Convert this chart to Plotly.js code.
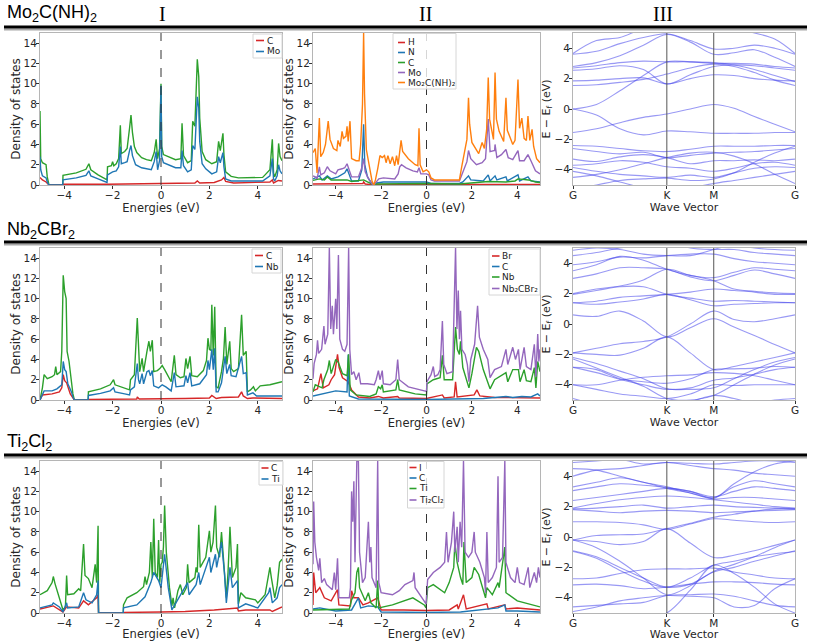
<!DOCTYPE html>
<html><head><meta charset="utf-8">
<script src="https://cdn.plot.ly/plotly-3.0.1.min.js"></script>
<style>html,body{margin:0;padding:0;background:#fff}#chart{width:813px;height:641px}</style>
</head><body><div id="chart"></div>
<script>
// ---------------- DATA ----------------
const materials = ['Mo<sub>2</sub>C(NH)<sub>2</sub>', 'Nb<sub>2</sub>CBr<sub>2</sub>', 'Ti<sub>2</sub>Cl<sub>2</sub>'];
const columnLabels = ['I', 'II', 'III'];
const energyTicks = [-4, -2, 0, 2, 4];
const dosTicks = [0, 2, 4, 6, 8, 10, 12, 14];
const kPath = [0, 0.1667, 0.3333, 0.5, 0.6667, 0.8333, 1.0, 1.1443, 1.2887, 1.433, 1.5774];
const kTickVals = [0, 0.6667, 1.0, 1.5774];
const kTickText = ['G', 'K', 'M', 'G'];

// Row 1: Mo2C(NH)2, panel I ([energy, DOS] points)
const mo_I_total = [[-5,7.3],[-4.97,2.6],[-4.9,2.2],[-4.75,2.0],[-4.7,0.8],[-4.63,0],[-4.06,0],[-4.05,0.95],[-3.5,1.2],[-3.1,1.55],[-2.98,2.1],[-2.9,1.5],[-2.6,1.0],[-2.23,0.5],[-2.21,1.8],[-2.05,1.9],[-2.0,2.3],[-1.95,1.9],[-1.85,2.1],[-1.75,2.6],[-1.68,5.9],[-1.64,3.1],[-1.5,3.3],[-1.4,3.6],[-1.3,5.6],[-1.24,6.9],[-1.18,5.2],[-1.1,3.8],[-1.0,3.2],[-0.8,2.7],[-0.6,2.5],[-0.4,2.4],[-0.28,3.2],[-0.2,4.5],[-0.14,2.6],[-0.06,3.6],[0,10],[0.03,3.8],[0.1,3.0],[0.3,2.8],[0.6,2.5],[0.82,2.6],[0.87,6.1],[0.93,2.9],[1.1,2.2],[1.25,2.4],[1.31,6.3],[1.4,5.8],[1.5,12.4],[1.56,10.7],[1.6,6.6],[1.7,3.3],[1.85,2.5],[2.1,2.1],[2.3,2.3],[2.38,4.3],[2.45,3.4],[2.56,5.1],[2.6,3.0],[2.67,1.3],[2.9,0.85],[3.2,0.7],[4.2,0.75],[4.3,1.0],[4.5,1.5],[4.6,4.5],[4.65,1.2],[4.7,0.8],[4.8,1.5],[4.86,4.1],[4.92,2.8],[5,2.4]];
const mo_I_Mo = [[-5,2.8],[-4.97,1.5],[-4.9,0.9],[-4.75,0.7],[-4.7,0.3],[-4.63,0],[-4.06,0],[-4.05,0.5],[-3.5,0.7],[-3.1,0.95],[-2.98,1.4],[-2.9,0.9],[-2.6,0.6],[-2.23,0.25],[-2.21,1.0],[-2.0,1.3],[-1.85,1.4],[-1.75,1.8],[-1.68,3.8],[-1.64,2.1],[-1.5,2.2],[-1.4,2.3],[-1.3,3.4],[-1.24,3.9],[-1.18,2.9],[-1.05,2.0],[-0.8,1.7],[-0.5,1.5],[-0.4,1.5],[-0.28,2.3],[-0.2,3.3],[-0.14,1.5],[-0.06,2.4],[0,9.8],[0.03,2.8],[0.1,2.2],[0.3,2.0],[0.6,1.7],[0.82,1.7],[0.87,3.4],[0.93,1.9],[1.1,1.3],[1.25,1.5],[1.31,3.9],[1.4,3.5],[1.5,8.7],[1.56,7.6],[1.6,4.3],[1.7,2.1],[1.85,1.6],[2.1,1.1],[2.3,1.3],[2.38,2.8],[2.45,2.2],[2.56,3.2],[2.6,1.8],[2.67,0.6],[2.9,0.4],[4.2,0.4],[4.3,0.55],[4.5,0.9],[4.6,2.6],[4.65,0.6],[4.7,0.4],[4.8,0.9],[4.86,2.0],[4.92,1.4],[5,1.1]];
const mo_I_C = [[-5,0.75],[-4.9,0.5],[-4.75,0.3],[-4.63,0],[-4.06,0],[-4.05,0.08],[-2.2,0.08],[-1.6,0.1],[0,0.1],[0.9,0.15],[1.4,0.2],[1.5,0.4],[1.6,0.2],[2.2,0.25],[2.5,0.5],[2.6,0.75],[2.67,0.35],[3.0,0.2],[4.5,0.3],[4.6,0.5],[4.65,0.2],[4.85,0.45],[5,0.4]];

// Row 1 panel II
const mo_II_total = [[-5,3.2],[-4.9,3.6],[-4.82,1.2],[-4.72,6.6],[-4.66,2.8],[-4.55,3.2],[-4.45,4.0],[-4.37,5.9],[-4.33,6.3],[-4.25,4.5],[-4.1,3.6],[-3.95,3.4],[-3.9,4.4],[-3.8,3.8],[-3.72,5.3],[-3.66,4.6],[-3.55,4.8],[-3.5,5.8],[-3.45,4.3],[-3.37,6.3],[-3.3,2.6],[-3.1,2.4],[-2.97,2.4],[-2.9,4.0],[-2.82,8.0],[-2.77,15],[-2.73,9.0],[-2.65,3.5],[-2.55,2.2],[-2.4,0.4],[-2.32,0],[-2.25,0.5],[-2.15,1.6],[-2.05,2.9],[-1.95,2.7],[-1.85,2.9],[-1.78,2.2],[-1.7,2.9],[-1.6,2.1],[-1.5,2.8],[-1.4,1.9],[-1.32,2.9],[-1.25,2.0],[-1.18,3.3],[-1.12,4.4],[-1.05,3.3],[-0.8,2.6],[-0.5,2.0],[-0.38,1.9],[-0.33,5.6],[-0.28,2.0],[-0.15,1.3],[-0.05,1.4],[0,1.5],[0.1,1.3],[0.2,0.7],[0.35,0.5],[1.45,0.5],[1.55,1.8],[1.7,3.6],[1.78,4.5],[1.85,8.6],[1.9,6.0],[2.0,4.2],[2.2,3.4],[2.3,3.1],[2.45,4.2],[2.55,3.6],[2.65,5.5],[2.72,10.6],[2.78,6.5],[2.88,5.2],[2.95,4.5],[3.02,11.1],[3.08,6.5],[3.2,5.3],[3.3,4.8],[3.4,4.3],[3.5,8.6],[3.56,5.4],[3.7,4.6],[3.8,4.0],[3.9,4.4],[4.03,10.4],[4.1,5.6],[4.2,6.6],[4.3,4.6],[4.4,4.4],[4.47,6.8],[4.55,4.4],[4.65,5.5],[4.72,3.8],[4.85,2.6],[5,2.2]];
const mo_II_Mo = [[-5,0.9],[-4.9,0.8],[-4.82,0.6],[-4.72,1.8],[-4.66,1.0],[-4.5,1.2],[-4.37,1.8],[-4.25,1.4],[-4.0,1.1],[-3.9,1.5],[-3.72,1.6],[-3.6,1.7],[-3.5,2.1],[-3.4,1.5],[-3.3,0.8],[-3.0,0.8],[-2.85,1.7],[-2.77,2.6],[-2.7,1.3],[-2.55,0.6],[-2.4,0.1],[-2.32,0],[-2.25,0.2],[-2.1,0.6],[-1.9,0.7],[-1.6,0.6],[-1.4,0.6],[-1.25,1.1],[-1.18,1.8],[-1.1,2.0],[-0.9,1.7],[-0.6,1.4],[-0.4,1.3],[-0.33,1.7],[-0.25,1.1],[0,1.1],[0.1,1.0],[0.2,0.5],[0.35,0.4],[1.45,0.4],[1.6,1.2],[1.78,2.3],[1.85,3.4],[1.95,2.6],[2.2,2.0],[2.45,2.2],[2.6,2.6],[2.72,6.5],[2.8,3.3],[3.0,3.4],[3.02,4.0],[3.1,2.7],[3.3,3.0],[3.5,3.5],[3.6,2.7],[3.8,2.5],[4.03,3.4],[4.1,2.4],[4.3,2.4],[4.47,3.0],[4.6,2.4],[4.8,1.4],[5,1.1]];
const mo_II_N = [[-5,0.6],[-4.72,0.9],[-4.6,0.5],[-4.37,0.9],[-4.2,0.6],[-3.9,0.8],[-3.6,1.2],[-3.5,1.6],[-3.4,1.0],[-3.3,0.4],[-3.0,0.4],[-2.85,1.5],[-2.77,6.0],[-2.72,2.0],[-2.6,0.8],[-2.4,0.1],[-2.32,0],[-2.2,0.2],[-1.9,0.3],[-1.18,0.3],[-0.33,0.25],[0,0.3],[0.2,0.15],[1.45,0.15],[1.6,0.3],[1.85,0.9],[1.95,0.5],[2.5,0.4],[2.72,1.0],[2.8,0.4],[3.02,0.9],[3.1,0.5],[3.5,0.8],[3.56,0.4],[4.03,1.0],[4.1,0.4],[4.47,0.8],[4.6,0.4],[5,0.3]];
const mo_II_C = [[-5,0.45],[-4.72,0.6],[-4.5,0.5],[-4.37,0.8],[-4.2,0.5],[-3.9,0.5],[-3.5,0.5],[-3.3,0.35],[-2.77,0.5],[-2.6,0.3],[-2.4,0.05],[-2.32,0],[-2.2,0.1],[0,0.15],[1.45,0.1],[2.0,0.2],[2.72,0.35],[3.5,0.3],[3.9,0.4],[4.03,0.6],[4.5,0.5],[4.8,0.3],[5,0.25]];
const mo_II_H = [[-5,0.1],[-2.8,0.15],[-2.77,0.3],[-2.7,0.1],[-2.32,0],[-2.2,0.05],[5,0.05]];

// Row 2: Nb2CBr2, panel I
const nb_I_total = [[-5,0],[-4.9,1.2],[-4.83,2.5],[-4.7,2.1],[-4.5,2.3],[-4.4,2.5],[-4.35,3.3],[-4.3,2.5],[-4.15,2.8],[-4.1,4.8],[-4.04,12.3],[-3.98,10.7],[-3.92,10.0],[-3.88,4.8],[-3.8,3.8],[-3.7,1.5],[-3.64,0.6],[-3.58,0],[-3.01,0],[-3.0,0.8],[-2.5,1.1],[-2.1,1.5],[-1.96,2.0],[-1.9,1.5],[-1.6,1.25],[-1.3,1.0],[-1.26,2.0],[-1.1,2.5],[-0.98,8.1],[-0.93,4.4],[-0.88,2.8],[-0.78,4.1],[-0.72,2.8],[-0.58,4.8],[-0.5,5.8],[-0.44,4.8],[-0.36,5.9],[-0.3,2.8],[-0.15,2.9],[-0.05,3.1],[0.05,3.4],[0.15,3.0],[0.3,2.4],[0.42,1.8],[0.55,4.4],[0.62,2.5],[0.8,2.2],[0.95,2.3],[1.03,4.1],[1.1,3.1],[1.2,4.3],[1.27,2.4],[1.5,2.3],[1.75,2.9],[1.88,3.9],[1.94,6.1],[2.0,5.0],[2.06,4.9],[2.1,9.4],[2.16,4.4],[2.22,9.2],[2.28,1.3],[2.36,1.2],[2.5,2.8],[2.58,4.1],[2.65,7.2],[2.72,3.5],[2.84,5.8],[2.9,3.1],[3.0,2.8],[3.2,3.1],[3.33,8.4],[3.4,4.4],[3.52,4.8],[3.57,0.8],[3.7,1.0],[3.82,1.3],[3.9,0.9],[4.1,1.4],[4.5,1.5],[5,1.8]];
const nb_I_Nb = [[-5,0],[-4.9,0.6],[-4.83,0.9],[-4.5,0.9],[-4.3,1.1],[-4.1,1.5],[-4.04,3.8],[-3.98,3.0],[-3.92,2.8],[-3.85,1.6],[-3.7,0.8],[-3.64,0.3],[-3.58,0],[-3.01,0],[-3.0,0.45],[-2.5,0.65],[-2.1,0.9],[-1.96,1.2],[-1.9,0.8],[-1.5,0.6],[-1.3,0.5],[-1.26,1.0],[-1.1,1.3],[-0.98,3.6],[-0.93,2.0],[-0.88,1.6],[-0.78,2.6],[-0.72,1.6],[-0.58,2.8],[-0.5,2.9],[-0.44,2.4],[-0.36,2.9],[-0.3,1.4],[-0.1,1.2],[0.05,1.5],[0.2,1.3],[0.42,0.9],[0.55,2.7],[0.62,1.3],[0.95,1.4],[1.03,2.4],[1.1,1.7],[1.2,2.7],[1.27,1.4],[1.6,1.6],[1.88,2.5],[1.94,3.9],[2.0,3.0],[2.1,5.0],[2.16,3.0],[2.22,5.1],[2.28,0.8],[2.36,0.8],[2.5,1.7],[2.65,4.3],[2.72,2.6],[2.84,3.5],[2.9,2.4],[3.1,2.3],[3.33,4.3],[3.4,2.6],[3.52,2.7],[3.57,0.5],[3.8,0.7],[3.95,0.4],[5,0.4]];
const nb_I_C = [[-5,0],[-4.9,0.5],[-4.5,0.6],[-4.2,0.8],[-4.1,1.2],[-4.04,2.5],[-3.98,1.9],[-3.9,1.7],[-3.75,0.6],[-3.64,0.15],[-3.58,0],[-3.01,0],[-3.0,0.05],[-1.0,0.1],[-0.98,0.3],[-0.9,0.1],[0,0.1],[1.0,0.15],[2.0,0.2],[2.1,0.45],[2.28,0.15],[2.5,0.25],[3.2,0.3],[3.33,0.8],[3.4,0.4],[3.57,0.15],[3.8,0.2],[5,0.15]];

// Row 2 panel II
const nb_II_total = [[-5,2.1],[-4.95,3.6],[-4.85,4.5],[-4.8,5.9],[-4.75,4.6],[-4.62,5.0],[-4.52,7.3],[-4.47,5.5],[-4.35,6.5],[-4.28,15],[-4.22,7.0],[-4.15,9.3],[-4.1,6.5],[-4.0,10.0],[-3.95,7.0],[-3.88,14.3],[-3.82,6.0],[-3.7,5.0],[-3.6,4.8],[-3.5,5.5],[-3.43,15],[-3.38,5.0],[-3.3,2.5],[-3.2,2.8],[-3.1,2.0],[-2.98,2.7],[-2.9,1.6],[-2.6,1.6],[-2.3,1.5],[-2.22,2.0],[-2.12,2.9],[-2.05,2.0],[-1.95,2.9],[-1.9,1.6],[-1.6,1.5],[-1.35,2.0],[-1.27,4.0],[-1.2,2.0],[-0.8,1.3],[-0.4,1.05],[0,0.85],[0.02,1.8],[0.1,2.1],[0.2,2.5],[0.3,3.3],[0.36,2.3],[0.5,2.5],[0.6,3.0],[0.7,7.8],[0.76,3.5],[0.9,2.6],[1.15,2.8],[1.28,15],[1.34,7.0],[1.4,10.8],[1.45,6.0],[1.5,8.8],[1.56,5.0],[1.7,4.5],[1.8,3.5],[1.87,1.8],[1.95,4.0],[2.12,5.5],[2.25,9.3],[2.33,6.2],[2.5,5.0],[2.7,4.0],[2.8,2.2],[3.0,3.0],[3.3,3.3],[3.5,5.0],[3.58,3.5],[3.8,5.2],[3.92,4.0],[4.05,5.0],[4.12,3.0],[4.3,5.2],[4.4,3.3],[4.6,3.0],[4.75,5.5],[4.82,2.3],[4.9,6.5],[4.95,3.8],[5,5.0]];
const nb_II_Nb = [[-5,0.8],[-4.9,1.5],[-4.6,1.2],[-4.52,2.0],[-4.35,3.0],[-4.28,3.9],[-4.2,2.6],[-4.0,4.0],[-3.88,3.7],[-3.7,2.6],[-3.5,2.4],[-3.43,4.5],[-3.36,1.0],[-3.1,0.5],[-2.5,0.35],[-2.22,0.6],[-2.12,1.3],[-2.02,1.1],[-1.95,1.5],[-1.9,0.8],[-1.35,1.0],[-1.27,2.0],[-1.2,1.0],[-0.5,0.6],[0,0.5],[0.02,1.6],[0.3,2.0],[0.6,2.2],[0.7,4.4],[0.78,2.0],[1.15,2.0],[1.28,7.2],[1.36,5.0],[1.45,4.5],[1.5,5.8],[1.6,3.2],[1.87,1.2],[2.0,2.6],[2.2,5.2],[2.3,4.8],[2.5,3.0],[2.8,1.1],[3.0,2.0],[3.5,2.7],[3.58,1.8],[3.8,3.0],[4.05,3.0],[4.12,1.8],[4.3,3.0],[4.4,1.9],[4.6,1.8],[4.75,3.2],[4.82,1.2],[4.9,3.8],[5,2.8]];
const nb_II_Br = [[-5,0.9],[-4.8,1.1],[-4.65,2.6],[-4.55,1.2],[-4.3,1.5],[-4.2,2.0],[-4.05,2.5],[-3.92,4.5],[-3.85,3.2],[-3.7,2.2],[-3.45,1.8],[-3.3,1.0],[-3.0,0.3],[-2.5,0.2],[-2.12,0.35],[-1.9,0.2],[-1.27,0.35],[-1.2,0.2],[0,0.15],[0.7,0.5],[0.78,0.2],[1.22,0.3],[1.28,1.8],[1.35,0.3],[2.1,0.5],[2.22,1.0],[2.35,0.4],[3,0.25],[5,0.2]];
const nb_II_C = [[-5,0.4],[-4.6,0.6],[-4.0,0.9],[-3.5,0.8],[-3.45,4.5],[-3.4,0.4],[-3.0,0.1],[0,0.05],[2.5,0.15],[3.5,0.35],[3.8,0.25],[4.2,0.35],[4.6,0.3],[4.9,0.6],[5,0.4]];

// Row 3: Ti2Cl2, panel I
const ti_I_total = [[-5,1.8],[-4.7,2.2],[-4.5,3.0],[-4.45,3.6],[-4.38,2.9],[-4.2,1.5],[-4.05,0.3],[-3.95,0.6],[-3.9,3.7],[-3.86,1.8],[-3.6,1.9],[-3.4,2.4],[-3.32,2.2],[-3.2,6.8],[-3.14,3.7],[-3.0,3.4],[-2.85,2.5],[-2.72,4.8],[-2.66,3.0],[-2.6,8.6],[-2.58,0],[-1.56,0],[-1.55,0.8],[-1.4,1.5],[-1.0,2.0],[-0.72,2.6],[-0.66,3.6],[-0.6,2.8],[-0.48,4.0],[-0.42,7.0],[-0.36,3.5],[-0.3,9.3],[-0.24,4.0],[-0.15,3.5],[-0.1,7.2],[-0.05,3.0],[0,4.8],[0.05,5.0],[0.1,6.5],[0.15,10.6],[0.22,6.0],[0.35,2.5],[0.45,0.7],[0.5,1.5],[0.56,0.5],[0.7,2.2],[0.8,2.8],[0.9,1.8],[1.05,2.5],[1.1,4.8],[1.16,3.0],[1.4,3.5],[1.45,4.5],[1.5,4.0],[1.56,8.7],[1.62,4.5],[1.85,5.5],[2.0,8.1],[2.06,6.0],[2.15,7.0],[2.25,10.6],[2.3,6.5],[2.42,5.5],[2.5,8.0],[2.56,6.0],[2.62,5.0],[2.7,1.5],[2.77,4.0],[2.85,8.5],[2.95,3.5],[3.1,4.5],[3.16,6.8],[3.2,0.9],[3.3,2.0],[3.5,1.5],[3.9,1.3],[4.0,1.0],[4.3,1.8],[4.45,4.0],[4.5,4.5],[4.56,3.5],[4.7,1.5],[4.8,2.7],[4.9,5.0],[5,5.3]];
const ti_I_Ti = [[-5,0.5],[-4.5,0.8],[-4.45,1.0],[-4.2,0.6],[-4.05,0.1],[-3.9,1.0],[-3.86,0.5],[-3.4,0.6],[-3.2,2.0],[-3.1,1.3],[-2.85,1.0],[-2.66,1.8],[-2.6,3.2],[-2.58,0],[-1.56,0],[-1.55,0.5],[-1.0,0.8],[-0.66,1.6],[-0.42,3.0],[-0.3,4.0],[-0.1,3.2],[0,2.5],[0.15,5.8],[0.3,2.5],[0.45,0.3],[0.8,1.7],[1.1,3.0],[1.16,1.8],[1.45,2.8],[1.56,4.0],[1.62,2.8],[2.0,5.5],[2.06,4.0],[2.25,5.8],[2.3,4.5],[2.5,7.0],[2.62,4.0],[2.7,1.0],[2.85,4.5],[2.95,2.5],[3.16,3.2],[3.2,0.5],[3.5,0.9],[4.0,0.5],[4.45,2.0],[4.5,2.5],[4.6,1.0],[4.8,1.5],[4.9,2.5],[5,2.8]];
const ti_I_C = [[-5,0.4],[-4.45,0.7],[-4.05,0.1],[-3.9,0.6],[-3.4,0.5],[-3.2,1.2],[-3.0,0.8],[-2.66,1.5],[-2.6,1.8],[-2.58,0],[-1.56,0],[-1.55,0.05],[0,0.1],[1.0,0.15],[2.2,0.3],[3.16,0.5],[3.2,0.2],[3.5,0.3],[4.5,0.3],[4.6,0.15],[5,0.6]];

// Row 3 panel II
const ti_II_total = [[-5,4.8],[-4.97,11.0],[-4.92,7.0],[-4.85,5.5],[-4.75,4.2],[-4.7,5.4],[-4.62,3.0],[-4.5,3.4],[-4.4,2.8],[-4.3,2.6],[-4.15,2.3],[-4.06,4.0],[-4.0,2.3],[-3.92,5.4],[-3.86,1.5],[-3.4,1.5],[-3.35,2.5],[-3.3,12.0],[-3.25,9.0],[-3.2,13.0],[-3.15,5.0],[-3.07,15],[-3.0,15],[-2.95,6.0],[-2.82,3.0],[-2.7,3.5],[-2.62,7.0],[-2.56,9.0],[-2.5,5.0],[-2.45,6.5],[-2.4,3.5],[-2.22,2.5],[-2.15,15],[-2.1,3.0],[-2.0,2.0],[-1.5,1.8],[-1.2,2.2],[-0.95,2.8],[-0.6,3.2],[-0.55,4.0],[-0.5,2.5],[-0.2,1.5],[-0.02,0.9],[0.05,3.3],[0.3,4.0],[0.6,4.5],[0.8,5.0],[0.88,8.0],[0.95,5.0],[1.1,7.0],[1.2,10.0],[1.25,6.0],[1.35,8.5],[1.4,5.0],[1.48,9.0],[1.55,6.5],[1.63,15],[1.7,6.0],[1.85,5.5],[2.0,6.0],[2.1,8.0],[2.15,6.0],[2.35,5.0],[2.55,3.5],[2.6,2.0],[2.66,8.0],[2.72,3.0],[2.9,3.5],[3.08,4.5],[3.15,13.5],[3.2,5.0],[3.35,5.5],[3.45,15],[3.5,5.0],[3.7,3.5],[3.9,3.0],[4.0,4.5],[4.1,3.0],[4.3,2.8],[4.48,4.5],[4.55,2.5],[4.75,4.0],[4.85,3.0],[4.93,4.5],[5,3.5]];
const ti_II_Ti = [[-5,0.3],[-4.0,0.4],[-3.4,0.4],[-3.3,1.3],[-3.15,2.0],[-3.07,4.0],[-3.0,4.5],[-2.95,2.5],[-2.7,1.2],[-2.56,2.0],[-2.45,1.0],[-2.22,0.5],[-2.15,3.2],[-2.1,0.5],[-1.5,0.8],[-0.6,1.5],[-0.1,0.8],[-0.02,0.5],[0.05,2.5],[0.3,2.8],[0.8,2.0],[1.0,3.0],[1.2,4.5],[1.25,7.0],[1.35,5.0],[1.5,3.5],[1.6,2.8],[1.65,7.0],[1.75,3.0],[2.0,3.5],[2.1,4.5],[2.3,3.8],[2.6,1.5],[2.66,2.5],[2.9,1.8],[3.15,3.0],[3.2,2.5],[3.45,6.5],[3.5,2.0],[4.0,1.2],[4.5,0.9],[5,0.6]];
const ti_II_I = [[-5,0.8],[-4.97,4.0],[-4.88,2.0],[-4.7,2.5],[-4.5,1.5],[-4.2,1.2],[-3.92,2.3],[-3.86,0.8],[-3.35,0.7],[-3.3,2.2],[-3.2,1.5],[-3.0,1.5],[-2.8,0.8],[-2.56,1.0],[-2.15,1.5],[-2.0,0.3],[-1.0,0.3],[0,0.25],[1.0,0.3],[1.35,0.8],[1.4,0.4],[1.63,1.8],[1.75,0.4],[2.66,0.9],[2.72,0.4],[3.15,0.6],[3.45,0.8],[3.5,0.4],[4.0,0.5],[5,0.3]];
const ti_II_C = [[-5,0.4],[-4.7,0.5],[-4.0,0.2],[-3.3,0.3],[-3.0,1.5],[-2.9,0.5],[-2.56,0.7],[-2.15,0.6],[-2.0,0.1],[0,0.05],[1.5,0.1],[3.15,0.5],[3.45,0.8],[3.5,0.2],[4.0,0.2],[5,0.1]];

// Band energies (eV) at kPath points, one row per band
const mo_bands = [
 [3.65,4.5,4.7,5.3,5.6,5.3,5.2,5.3,5.0,4.6,3.65],
 [3.6,3.8,4.3,4.7,4.95,4.5,3.95,4.0,4.2,4.0,3.6],
 [2.8,3.05,3.5,4.2,4.9,4.4,3.6,3.7,3.9,3.4,2.8],
 [2.7,2.85,3.05,3.15,3.1,3.1,3.0,3.0,2.95,2.8,2.7],
 [2.55,2.65,2.85,2.6,1.65,2.25,2.8,2.9,2.85,2.7,2.55],
 [1.85,1.9,2.0,2.05,1.65,2.0,2.25,2.2,2.0,1.9,1.85],
 [1.55,1.6,1.75,1.95,2.3,2.7,2.95,2.8,2.4,1.9,1.55],
 [0.0,0.3,1.2,2.2,3.1,3.1,3.05,2.9,2.6,2.2,1.8],
 [0.0,-0.4,-1.3,-1.7,-1.45,-1.5,-1.6,-1.6,-1.6,-1.55,-1.55],
 [-1.55,-1.3,-0.9,-0.55,-0.33,0.0,0.3,0.05,-0.5,-1.0,-1.5],
 [-2.4,-2.45,-2.6,-2.75,-2.8,-2.65,-2.45,-2.45,-2.45,-2.4,-2.4],
 [-2.6,-2.8,-2.95,-2.85,-3.2,-3.05,-2.9,-2.85,-2.8,-2.7,-2.6],
 [-3.3,-3.45,-3.15,-3.0,-3.2,-3.6,-3.4,-3.4,-3.35,-3.4,-3.3],
 [-3.7,-3.6,-3.4,-3.5,-3.8,-3.9,-4.1,-3.9,-3.6,-3.5,-3.7],
 [-3.85,-4.1,-4.3,-4.4,-4.5,-4.35,-4.5,-4.2,-3.9,-3.8,-3.85],
 [-4.1,-4.4,-4.8,-5.2,-5.5,-5.2,-4.9,-4.7,-4.5,-4.3,-4.1],
 [-5.3,-5.0,-4.7,-4.6,-4.55,-4.7,-4.6,-4.2,-3.5,-2.9,-2.45],
 [-4.5,-4.3,-4.0,-3.6,-3.2,-2.9,-2.85,-3.1,-3.6,-4.3,-4.9]
];
const nb_bands = [
 [0.6,0.5,0.85,0.2,-0.85,-0.25,0.35,-0.2,-0.75,-1.35,-1.9],
 [-1.9,-1.6,-1.3,-1.15,-0.85,0.0,0.85,0.3,0.15,0.35,0.6],
 [-1.9,-2.0,-2.05,-1.6,-0.85,-1.9,-3.0,-2.8,-2.5,-2.2,-1.9],
 [1.4,1.3,1.45,1.65,1.95,1.6,1.2,1.3,1.35,1.4,1.4],
 [1.4,1.5,1.75,1.85,1.95,2.1,2.3,2.2,2.1,1.95,1.95],
 [1.95,2.2,2.45,2.45,1.95,1.7,1.5,1.55,1.5,1.45,1.4],
 [2.0,2.3,2.5,2.9,3.6,3.2,2.85,2.3,2.15,2.05,2.0],
 [3.0,3.3,3.7,3.7,3.6,3.1,2.85,3.2,3.55,3.3,3.0],
 [3.5,3.9,4.45,4.2,3.6,3.2,3.05,3.4,3.7,3.6,3.5],
 [3.9,4.1,4.4,4.35,4.5,4.6,4.6,4.3,4.1,4.0,3.9],
 [4.5,4.7,5.0,5.2,5.5,5.0,4.9,4.9,4.7,4.6,4.5],
 [4.85,5.0,4.9,4.6,4.5,4.5,4.9,5.2,5.0,4.9,4.85],
 [-2.2,-2.6,-3.1,-3.6,-4.25,-4.3,-4.2,-3.6,-3.0,-2.5,-2.2],
 [-2.3,-2.9,-3.5,-4.1,-4.9,-5.0,-4.7,-4.0,-3.3,-2.7,-2.3],
 [-2.85,-3.0,-3.6,-3.8,-3.9,-3.6,-3.0,-2.95,-2.9,-2.8,-2.85],
 [-4.0,-4.0,-3.7,-3.5,-3.4,-3.35,-3.2,-3.25,-3.4,-3.7,-4.0],
 [-4.0,-4.3,-4.6,-4.75,-4.9,-4.6,-4.0,-4.05,-4.0,-4.0,-4.0],
 [-2.85,-3.2,-3.65,-4.0,-4.3,-4.2,-3.7,-3.55,-3.3,-3.0,-2.85],
 [-4.9,-5.3,-5.5,-5.4,-5.2,-5.1,-4.7,-4.9,-5.2,-5.0,-4.9]
];
const ti_bands = [
 [-0.2,0.1,0.15,0.2,0.55,0.9,1.3,1.5,1.7,1.85,1.85],
 [-0.2,-0.3,-0.5,-0.3,0.55,-0.4,-1.35,-1.2,-0.9,-0.55,-0.2],
 [1.0,1.0,0.95,0.8,0.5,0.85,1.2,1.1,1.0,0.95,1.0],
 [-0.9,-1.3,-2.0,-2.7,-3.3,-3.1,-2.3,-2.0,-1.6,-1.25,-0.9],
 [-0.95,-1.4,-2.2,-2.9,-3.3,-2.7,-1.85,-1.6,-1.3,-1.1,-0.95],
 [-0.2,-0.7,-1.6,-2.7,-3.8,-3.2,-2.25,-1.8,-1.3,-0.7,-0.2],
 [-2.75,-2.7,-2.4,-2.15,-2.1,-2.1,-2.05,-2.3,-2.5,-2.7,-2.75],
 [-3.15,-3.1,-3.2,-3.4,-3.3,-3.1,-2.95,-2.95,-3.0,-3.1,-3.15],
 [-4.6,-4.5,-4.4,-4.3,-3.85,-3.8,-3.75,-3.9,-4.2,-4.5,-4.6],
 [-4.9,-4.6,-4.2,-4.0,-3.85,-3.9,-4.0,-4.6,-4.5,-3.4,-2.75],
 [-6.0,-5.8,-5.5,-5.3,-5.0,-3.5,-1.85,-2.4,-3.3,-4.4,-5.0],
 [1.85,1.9,2.0,2.1,1.9,2.0,2.1,2.0,1.95,1.9,1.85],
 [1.8,1.7,1.6,1.7,1.75,1.7,1.6,1.65,1.7,1.75,1.8],
 [1.9,2.2,2.45,2.6,2.7,2.6,2.45,2.3,2.15,2.0,1.9],
 [2.4,2.6,2.8,3.0,3.2,3.0,2.5,2.6,2.6,2.5,2.4],
 [3.05,3.3,3.5,3.4,3.25,3.0,2.65,3.0,3.3,3.2,3.05],
 [3.3,3.6,3.9,3.6,3.2,2.9,2.6,3.3,3.7,3.5,3.3],
 [4.0,4.4,4.5,4.7,4.9,4.7,4.5,4.4,4.2,4.1,4.0],
 [4.5,4.4,4.0,3.6,3.3,2.9,2.55,3.5,4.3,4.8,5.0],
 [4.9,5.0,5.1,4.8,4.9,4.85,4.8,4.9,5.0,5.0,4.9]
];

// ---------------- BUILD ----------------
const W = 813, H = 641;
const COL = {red:'#d62728', blue:'#1f77b4', green:'#2ca02c', purple:'#9467bd', orange:'#ff7f0e'};
const rowTop = [33, 248, 461], rowBot = [185, 400, 613];
const colLeft = [40, 313, 573], colRight = [282, 540, 795];
const sepY = [27, 242, 455];
const titleY = [14, 230, 442];

// legend box geometry (pixels): box, entry rows, handle span, text start
const legendBoxes = [
  [{x0:253, x1:282, y0:34, y1:58, rows:[40.5,51.5], hx0:256, hx1:264, tx:265.5},
   {x0:393, x1:456, y0:33.5, y1:89, rows:[42.5,52.5,62.5,72.5,82.5], hx0:398, hx1:405, tx:406.5}],
  [{x0:252, x1:281, y0:249, y1:273, rows:[255.5,266.5], hx0:255, hx1:263, tx:264.5},
   {x0:489, x1:540, y0:249, y1:295, rows:[256,266.5,277,288.5], hx0:492, hx1:499.5, tx:501}],
  [{x0:259, x1:283, y0:461.5, y1:485, rows:[468,479], hx0:261.5, hx1:268.5, tx:270},
   {x0:407.5, x1:444, y0:461.5, y1:508, rows:[467.5,478,488.5,500], hx0:409.5, hx1:416.5, tx:417.5}]
];

const dosPanels = [
  [
    {curves:[[mo_I_total,'total',COL.green,false],[mo_I_C,'C',COL.red,true],[mo_I_Mo,'Mo',COL.blue,true]]},
    {curves:[[mo_II_H,'H',COL.red,true],[mo_II_N,'N',COL.blue,true],[mo_II_C,'C',COL.green,true],[mo_II_Mo,'Mo',COL.purple,true],[mo_II_total,'Mo₂C(NH)₂',COL.orange,true]]}
  ],
  [
    {curves:[[nb_I_total,'total',COL.green,false],[nb_I_C,'C',COL.red,true],[nb_I_Nb,'Nb',COL.blue,true]]},
    {curves:[[nb_II_Br,'Br',COL.red,true],[nb_II_C,'C',COL.blue,true],[nb_II_Nb,'Nb',COL.green,true],[nb_II_total,'Nb₂CBr₂',COL.purple,true]]}
  ],
  [
    {curves:[[ti_I_total,'total',COL.green,false],[ti_I_C,'C',COL.red,true],[ti_I_Ti,'Ti',COL.blue,true]]},
    {curves:[[ti_II_I,'I',COL.red,true],[ti_II_C,'C',COL.blue,true],[ti_II_Ti,'Ti',COL.green,true],[ti_II_total,'Ti₂Cl₂',COL.purple,true]]}
  ]
];
const bandSets = [mo_bands, nb_bands, ti_bands];

const traces = [];
const layout = {
  width: W, height: H, margin:{l:0,r:0,t:0,b:0},
  paper_bgcolor:'#fff', plot_bgcolor:'#fff',
  font:{family:'DejaVu Sans', color:'#262626'},
  showlegend:false, shapes:[], annotations:[]
};
const px = x => x / W, py = y => 1 - y / H;
const axisName = i => (i === 1 ? '' : String(i));
const tickFont = {family:'DejaVu Sans', size:10.5, color:'#262626'};
const baseAxis = {showgrid:false, zeroline:false, showline:true, mirror:true, linecolor:'#b5b5b5', linewidth:1,
  ticks:'outside', ticklen:3, tickwidth:1, tickcolor:'#333', tickfont:tickFont, ticklabelstandoff:-3};

for (let r = 0; r < 3; r++) {
  for (let c = 0; c < 3; c++) {
    const i = r*3 + c + 1;
    const xn = 'x' + axisName(i), yn = 'y' + axisName(i);
    const xdom = [px(colLeft[c]), px(colRight[c])];
    const ydom = [py(rowBot[r]), py(rowTop[r])];
    if (c < 2) {
      const panel = dosPanels[r][c];
      panel.curves.forEach(([pts, name, color]) => {
        traces.push({type:'scatter', mode:'lines', x:pts.map(p=>p[0]), y:pts.map(p=>p[1]), name:name,
          xaxis:xn, yaxis:yn, line:{color:color, width:1.4}, hoverinfo:'skip'});
      });
      layout['xaxis'+axisName(i)] = Object.assign({}, baseAxis, {domain:xdom, anchor:yn, range:[-5,5], tickvals:energyTicks,
        title:{text:'Energies (eV)', font:{size:11.5, color:'#262626'}, standoff:0}});
      layout['yaxis'+axisName(i)] = Object.assign({}, baseAxis, {domain:ydom, anchor:xn, range:[0,15], tickvals:dosTicks,
        title:{text:'Density of states', font:{size:12, color:'#262626'}, standoff:0}});
      layout.shapes.push({type:'line', xref:xn, yref:yn+' domain', x0:0, x1:0, y0:0, y1:1,
        line:{color:'#333', width:1, dash:'dash'}});
      // legend (box, handles, labels)
      const lb = legendBoxes[r][c];
      layout.shapes.push({type:'rect', xref:'paper', yref:'paper', x0:px(lb.x0), x1:px(lb.x1), y0:py(lb.y1), y1:py(lb.y0),
        fillcolor:'rgba(255,255,255,0.8)', line:{color:'#d6d6d6', width:1}});
      panel.curves.filter(cv => cv[3]).forEach((cv, k) => {
        const yy = py(lb.rows[k]);
        layout.shapes.push({type:'line', xref:'paper', yref:'paper', x0:px(lb.hx0), x1:px(lb.hx1), y0:yy, y1:yy,
          line:{color:cv[2], width:1.6}});
        layout.annotations.push({text:cv[1], xref:'paper', yref:'paper', x:px(lb.tx), y:yy, xanchor:'left', yanchor:'middle',
          showarrow:false, borderpad:0, font:{family:'DejaVu Sans', size:9, color:'#222'}});
      });
    } else {
      bandSets[r].forEach(band => {
        traces.push({type:'scatter', mode:'lines', x:kPath, y:band, xaxis:xn, yaxis:yn,
          line:{color:'rgba(70,70,235,0.55)', width:1.1, shape:'spline', smoothing:1}, hoverinfo:'skip'});
      });
      layout['xaxis'+axisName(i)] = Object.assign({}, baseAxis, {domain:xdom, anchor:yn, range:[0,1.5774],
        tickvals:kTickVals, ticktext:kTickText, title:{text:'Wave Vector', font:{size:11, color:'#262626'}, standoff:0}});
      layout['yaxis'+axisName(i)] = Object.assign({}, baseAxis, {domain:ydom, anchor:xn, range:[-5,5], tickvals:energyTicks,
        title:{text:'E − E<sub>f</sub> (eV)', font:{size:11, color:'#262626'}, standoff:1}});
      [kTickVals[1], kTickVals[2]].forEach(kv => layout.shapes.push({type:'line', xref:xn, yref:yn+' domain',
        x0:kv, x1:kv, y0:0, y1:1, line:{color:'#555', width:1}}));
    }
  }
  // separator line with soft shadow
  layout.shapes.push({type:'line', xref:'paper', yref:'paper', x0:px(4), x1:px(807), y0:py(sepY[r]+2.5), y1:py(sepY[r]+2.5),
    line:{color:'#a8a8a8', width:2}});
  layout.shapes.push({type:'line', xref:'paper', yref:'paper', x0:px(4), x1:px(807), y0:py(sepY[r]), y1:py(sepY[r]),
    line:{color:'#000', width:3}});
  layout.annotations.push({text:materials[r], xref:'paper', yref:'paper', x:px(5), y:py(titleY[r]), xanchor:'left', yanchor:'middle',
    showarrow:false, font:{family:'Liberation Sans, Arial', size:18, color:'#000'}});
}
const colLabelX = [162, 425, 663];
columnLabels.forEach((t, j) => layout.annotations.push({text:t, xref:'paper', yref:'paper', x:px(colLabelX[j]), y:py(14),
  xanchor:'center', yanchor:'middle', showarrow:false, font:{family:'Liberation Serif, Times New Roman', size:20, color:'#000'}}));

Plotly.newPlot('chart', traces, layout, {staticPlot:true, displayModeBar:false});
</script>
</body></html>
